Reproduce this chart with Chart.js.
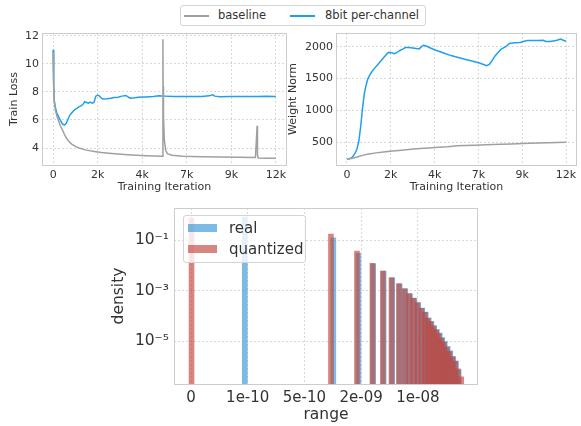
<!DOCTYPE html>
<html>
<head>
<meta charset="utf-8">
<script src="https://cdn.jsdelivr.net/npm/chart.js@4/dist/chart.umd.min.js"></script>
<style>
  body { margin: 0; width: 581px; height: 426px; background: #fff; position: relative; overflow: hidden;
         font-family: "DejaVu Sans", sans-serif; color: #333; }
  canvas { position: absolute; }
  .legend { position: absolute; background: rgba(255,255,255,0.8); border: 1px solid #d4d4d4; border-radius: 3px; box-sizing: border-box; }
  .legend span { position: absolute; white-space: nowrap; }
  .swatch { position: absolute; }
</style>
</head>
<body>

<div class="legend" style="left:180px;top:5px;width:246px;height:21px;font-size:11.5px;">
  <div class="swatch" style="left:3px;top:9px;width:25px;height:1.6px;background:#a0a0a0"></div>
  <span style="left:37px;top:2px">baseline</span>
  <div class="swatch" style="left:109px;top:9px;width:25px;height:1.6px;background:#1ea0ee"></div>
  <span style="left:144px;top:2px">8bit per-channel</span>
</div>

<canvas id="loss" width="290" height="172" style="left:0;top:28px"></canvas>
<canvas id="norm" width="295" height="172" style="left:286px;top:28px"></canvas>
<canvas id="hist" width="400" height="226" style="left:100px;top:200px"></canvas>

<div class="legend" style="left:183px;top:215px;width:123px;height:48px;font-size:15px;">
  <div class="swatch" style="left:4px;top:8px;width:29px;height:8px;background:rgba(52,150,215,0.65)"></div>
  <span style="left:45px;top:3px">real</span>
  <div class="swatch" style="left:4px;top:29px;width:29px;height:8px;background:rgba(195,70,60,0.65)"></div>
  <span style="left:45px;top:24px">quantized</span>
</div>

<script>
"use strict";

// training loss, 8bit per-channel
const lossIter8bit = [0, 30, 60, 120, 200, 300, 400, 500, 600, 700, 800, 900, 1000, 1100, 1200, 1300, 1400, 1500,
  1600, 1700, 1800, 1900, 2000, 2100, 2200, 2300, 2400, 2500, 2600, 2700, 2900, 3100, 3300, 3500, 3700, 3900, 4000,
  4100, 4200, 4400, 4600, 4800, 5000, 5200, 5400, 5700, 6000, 6500, 7000, 7500, 8000, 8400, 8600, 8700, 9000, 9500,
  10000, 10500, 11000, 11500, 12000];
const loss8bit = [11.0, 8.5, 7.4, 6.9, 6.5, 6.2, 5.95, 5.72, 5.63, 5.75, 6.05, 6.35, 6.5, 6.65, 6.78, 6.85, 6.95, 7.0,
  7.1, 7.3, 7.25, 7.2, 7.28, 7.2, 7.25, 7.7, 7.78, 7.7, 7.55, 7.5, 7.52, 7.55, 7.6, 7.62, 7.7, 7.75, 7.68,
  7.58, 7.55, 7.58, 7.62, 7.64, 7.63, 7.66, 7.68, 7.72, 7.7, 7.68, 7.67, 7.68, 7.67, 7.72, 7.8, 7.7, 7.66, 7.67,
  7.67, 7.68, 7.68, 7.69, 7.68];

// training loss, baseline
const lossIterBase = [0, 30, 60, 120, 200, 300, 400, 500, 600, 700, 800, 900, 1000, 1200, 1400, 1600, 1800, 2000,
  2300, 2600, 3000, 3500, 4000, 4500, 5000, 5500, 5900, 5915, 5925, 5945, 5990, 6060, 6150, 6400, 7000, 8000, 9000,
  10000, 10900, 10990, 11010, 11050, 11500, 12000];
const lossBase = [10.8, 8.4, 7.3, 6.7, 6.3, 5.9, 5.55, 5.3, 5.0, 4.75, 4.55, 4.4, 4.28, 4.12, 4.0, 3.92, 3.85, 3.8,
  3.74, 3.68, 3.63, 3.57, 3.52, 3.48, 3.45, 3.43, 3.42, 11.76, 8.4, 6.3, 4.6, 3.85, 3.6, 3.48, 3.42, 3.38, 3.36,
  3.34, 3.32, 5.59, 3.5, 3.28, 3.27, 3.27];

// weight norm, 8bit per-channel
const normIter8bit = [0, 150, 300, 450, 550, 650, 750, 850, 950, 1050, 1150, 1300, 1450, 1600, 1750, 1900, 2050, 2200,
  2300, 2450, 2600, 2750, 2900, 3050, 3200, 3400, 3600, 3800, 3950, 4100, 4200, 4350, 4600, 4900, 5300, 5700, 6100,
  6500, 6900, 7300, 7650, 7800, 7950, 8100, 8250, 8450, 8700, 8900, 9200, 9500, 9700, 9900, 10200, 10500, 10750,
  10900, 11100, 11300, 11500, 11700, 11850, 12000];
const norm8bit = [234, 245, 270, 330, 400, 520, 740, 1030, 1260, 1400, 1500, 1580, 1640, 1690, 1740, 1790, 1840, 1890,
  1910, 1905, 1890, 1910, 1940, 1960, 1985, 1985, 1980, 1970, 1965, 2005, 2020, 2010, 1975, 1940, 1900, 1860, 1830,
  1800, 1770, 1740, 1700, 1720, 1780, 1850, 1900, 1960, 2000, 2050, 2060, 2065, 2085, 2095, 2095, 2098, 2100,
  2080, 2080, 2090, 2100, 2120, 2100, 2085];

// weight norm, baseline
const normIterBase = [0, 300, 600, 900, 1200, 1600, 2000, 2500, 3000, 3500, 4000, 4500, 5000, 5500, 5800, 6000, 7000,
  8000, 9000, 10000, 11000, 12000];
const normBase = [234, 250, 275, 300, 318, 335, 350, 365, 378, 390, 402, 412, 422, 432, 440, 445, 455, 465, 475, 485,
  495, 503];

// iteration ticks and labels
const iterTicks = [0, 2400, 4800, 7200, 9600, 12000];
const iterLabels = ["0", "2k", "4k", "7k", "9k", "12k"];
const lossTicks = [4, 6, 8, 10, 12];
const normTicks = [500, 1000, 1500, 2000];

// histogram: bar positions in tick units and densities
const rangeTicks = [0, 1, 2, 3, 4];
const rangeLabels = ["0", "1e-10", "5e-10", "2e-09", "1e-08"];
const densityTicks = [1e-1, 1e-3, 1e-5];
const densityLabels = ["10\u207B\u00B9", "10\u207B\u00B3", "10\u207B\u2075"];

const quantX = [0.009, 2.467, 2.926, 3.199, 3.383, 3.535, 3.665, 3.764, 3.847, 3.923, 3.993, 4.064, 4.124, 4.177,
  4.226, 4.274, 4.323, 4.371, 4.417, 4.461, 4.512, 4.558, 4.611, 4.659, 4.706, 4.764];
const quantY = [0.74, 0.173, 0.0368, 0.012, 0.00597, 0.00325, 0.00188, 0.00119, 7.6e-4, 5.0e-4, 3.35e-4, 2.0e-4,
  1.4e-4, 8.1e-5, 5.96e-5, 4.0e-5, 2.8e-5, 2.0e-5, 1.3e-5, 9.1e-6, 5.6e-6, 3.9e-6, 2.4e-6, 1.66e-6, 8.1e-7, 3.9e-7];
const realX = [0.948, 2.509, 2.952, 3.212, 3.396, 3.548, 3.678, 3.777, 3.860, 3.936, 4.006, 4.077, 4.137, 4.190,
  4.239, 4.287, 4.336, 4.384, 4.430, 4.474, 4.525, 4.571, 4.624, 4.672, 4.719];
const realY = [0.81, 0.123, 0.030, 0.0115, 0.0058, 0.0032, 0.00185, 0.00118, 7.5e-4, 5.0e-4, 3.3e-4, 2.05e-4,
  1.4e-4, 8.3e-5, 6.0e-5, 4.1e-5, 2.9e-5, 2.1e-5, 1.4e-5, 9.8e-6, 6.3e-6, 4.2e-6, 2.5e-6, 1.6e-6, 7.5e-7];

const textColor = "#333333";
const gridColor = "#cfcfcf";
const gray = "#a0a0a0";
const blue = "#1ea0ee";

function points(xs, ys) {
  return xs.map((x, i) => ({ x: x, y: ys[i] }));
}

// light frame round the plot area
const framePlugin = {
  id: "frame",
  afterDatasetsDraw(chart) {
    const { ctx, chartArea: a } = chart;
    ctx.save();
    ctx.strokeStyle = "#cccccc";
    ctx.lineWidth = 1;
    ctx.strokeRect(Math.round(a.left) + 0.5, Math.round(a.top) + 0.5, Math.round(a.width) - 1, Math.round(a.height));
    ctx.restore();
  }
};

const grid = { color: gridColor, lineWidth: 0.8, drawTicks: false };
const border = { display: false, dash: [2, 2] };

// fixed axis sizes, no extra room for half labels
function fixY(width) {
  return s => { s.width = width; s.paddingTop = 0; s.paddingBottom = 0; };
}
function fixX(height) {
  return s => { s.height = height; s.paddingLeft = 0; s.paddingRight = 0; };
}

function lineChart(id, series, yMin, yMax, yTicks, yTitle, opts) {
  return new Chart(document.getElementById(id), {
    type: "line",
    data: {
      datasets: series.map(s => ({
        data: s.data, borderColor: s.color, borderWidth: 1.5, pointRadius: 0, tension: 0
      }))
    },
    plugins: [framePlugin],
    options: {
      responsive: false, animation: false, devicePixelRatio: 1,
      layout: { padding: { top: opts.top, right: opts.right, left: 0, bottom: 0 } },
      plugins: { legend: { display: false }, tooltip: { enabled: false } },
      scales: {
        x: {
          type: "linear", min: -600, max: 12600,
          border: border,
          grid: grid,
          afterBuildTicks: s => { s.ticks = iterTicks.map(v => ({ value: v })); },
          afterFit: fixX(35),
          ticks: { color: textColor, font: { family: "DejaVu Sans", size: 11 }, padding: 4, maxRotation: 0,
                   callback: v => iterLabels[iterTicks.indexOf(v)] },
          title: { display: true, text: "Training Iteration", color: textColor,
                   font: { family: "DejaVu Sans", size: 11 }, padding: { top: 0, bottom: 6 } }
        },
        y: {
          min: yMin, max: yMax,
          border: border,
          grid: grid,
          afterBuildTicks: s => { s.ticks = yTicks.map(v => ({ value: v })); },
          afterFit: fixY(opts.yWidth),
          ticks: { color: textColor, font: { family: "DejaVu Sans", size: 11 }, padding: 3,
                   callback: v => String(v) },
          title: { display: true, text: yTitle, color: textColor,
                   font: { family: "DejaVu Sans", size: 11 }, padding: { top: opts.titlePad, bottom: 0 } }
        }
      }
    }
  });
}

lineChart("loss", [
  { data: points(lossIterBase, lossBase), color: gray },
  { data: points(lossIter8bit, loss8bit), color: blue }
], 2.79, 12.2, lossTicks, "Train Loss", { top: 5, right: 3, yWidth: 42, titlePad: 8 });

lineChart("norm", [
  { data: points(normIterBase, normBase), color: gray },
  { data: points(normIter8bit, norm8bit), color: blue }
], 145, 2214, normTicks, "Weight Norm", { top: 5, right: 4, yWidth: 50, titlePad: 1 });

// histogram of ranges
new Chart(document.getElementById("hist"), {
  type: "bar",
  data: {
    datasets: [
      { label: "real", data: points(realX, realY), backgroundColor: "rgba(52,150,215,0.65)", order: 2 },
      { label: "quantized", data: points(quantX, quantY), backgroundColor: "rgba(195,70,60,0.65)", order: 1 }
    ]
  },
  plugins: [framePlugin],
  options: {
    responsive: false, animation: false, devicePixelRatio: 1,
    layout: { padding: { top: 8, right: 22, left: 0, bottom: 0 } },
    plugins: { legend: { display: false }, tooltip: { enabled: false } },
    datasets: { bar: { grouped: false, barThickness: 5, borderWidth: 0 } },
    scales: {
      x: {
        type: "linear", min: -0.3, max: 5.06, offset: false,
        border: border,
        grid: Object.assign({ offset: false }, grid),
        afterBuildTicks: s => { s.ticks = rangeTicks.map(v => ({ value: v })); },
        afterFit: fixX(42),
        ticks: { color: textColor, font: { family: "DejaVu Sans", size: 15 }, padding: 5, maxRotation: 0,
                 callback: v => rangeLabels[rangeTicks.indexOf(v)] },
        title: { display: true, text: "range", color: textColor,
                 font: { family: "DejaVu Sans", size: 15.5 }, padding: { top: 0, bottom: 2 } }
      },
      y: {
        type: "logarithmic", min: 2.04e-7, max: 1.84,
        border: border,
        grid: grid,
        afterBuildTicks: s => { s.ticks = densityTicks.map(v => ({ value: v })); },
        afterFit: fixY(74),
        ticks: { color: textColor, font: { family: "DejaVu Sans", size: 15.5 }, padding: 5,
                 callback: v => densityLabels[densityTicks.indexOf(v)] },
        title: { display: true, text: "density", color: textColor,
                 font: { family: "DejaVu Sans", size: 15.5 }, padding: { top: 10, bottom: 0 } }
      }
    }
  }
});
</script>
</body>
</html>
